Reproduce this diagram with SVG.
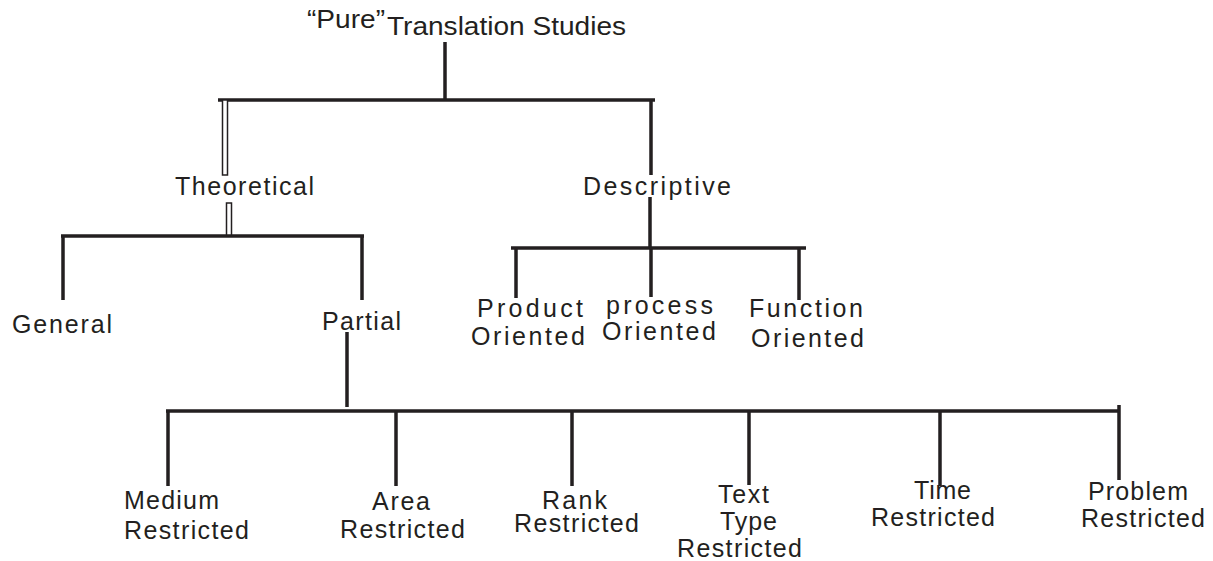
<svg xmlns="http://www.w3.org/2000/svg" width="1213" height="561" viewBox="0 0 1213 561">
<style>
text{font-family:"Liberation Sans",Arial,sans-serif;font-size:25px;fill:#231f20}
.ln{stroke:#231f20;stroke-width:3.5;fill:none;stroke-linecap:butt}
.hl{stroke:#231f20;stroke-width:1.5;fill:#fff}
</style>
<rect width="1213" height="561" fill="#fff"/>
<g id="connectors">
<path class="ln" d="M445 42V100M218 100H655M651 100V175"/>
<rect class="hl" x="222.5" y="100" width="5" height="75"/>
<rect class="hl" x="226.5" y="203" width="5" height="33"/>
<path class="ln" d="M61 236H364M63 236V300M362 236V300"/>
<path class="ln" d="M650 197V248M511 248H806M516 248V298M651 248V297M799 248V300"/>
<path class="ln" d="M347 332V407M166 411H1119M168 411V486M396 411V486M572 411V486M749 411V485M940 411V486M1119 405V480"/>
</g>
<g id="root"><text x="307" y="28" textLength="78" lengthAdjust="spacingAndGlyphs">“Pure”</text><text x="387" y="35" textLength="239" lengthAdjust="spacingAndGlyphs">Translation Studies</text></g>
<g id="theoretical"><text x="175" y="195" textLength="139">Theoretical</text></g>
<g id="descriptive"><text x="583" y="195" textLength="148">Descriptive</text></g>
<g id="general"><text x="12" y="333" textLength="100">General</text></g>
<g id="partial"><text x="322" y="330" textLength="79">Partial</text></g>
<g id="product"><text x="477" y="317" textLength="106">Product</text><text x="471" y="345" textLength="114">Oriented</text></g>
<g id="process"><text x="606" y="314" textLength="107">process</text><text x="602" y="340" textLength="114">Oriented</text></g>
<g id="function"><text x="749" y="317" textLength="114">Function</text><text x="751" y="347" textLength="113">Oriented</text></g>
<g id="medium"><text x="124" y="509" textLength="95">Medium</text><text x="124" y="539" textLength="125">Restricted</text></g>
<g id="area"><text x="372" y="510" textLength="58">Area</text><text x="340" y="538" textLength="125">Restricted</text></g>
<g id="rank"><text x="542" y="509" textLength="65">Rank</text><text x="514" y="532" textLength="125">Restricted</text></g>
<g id="texttype"><text x="718" y="503" textLength="51">Text</text><text x="720" y="530" textLength="57">Type</text><text x="677" y="557" textLength="125">Restricted</text></g>
<g id="time"><text x="914" y="499" textLength="57">Time</text><text x="871" y="526" textLength="124">Restricted</text></g>
<g id="problem"><text x="1088" y="500" textLength="100">Problem</text><text x="1081" y="527" textLength="124">Restricted</text></g>
</svg>
